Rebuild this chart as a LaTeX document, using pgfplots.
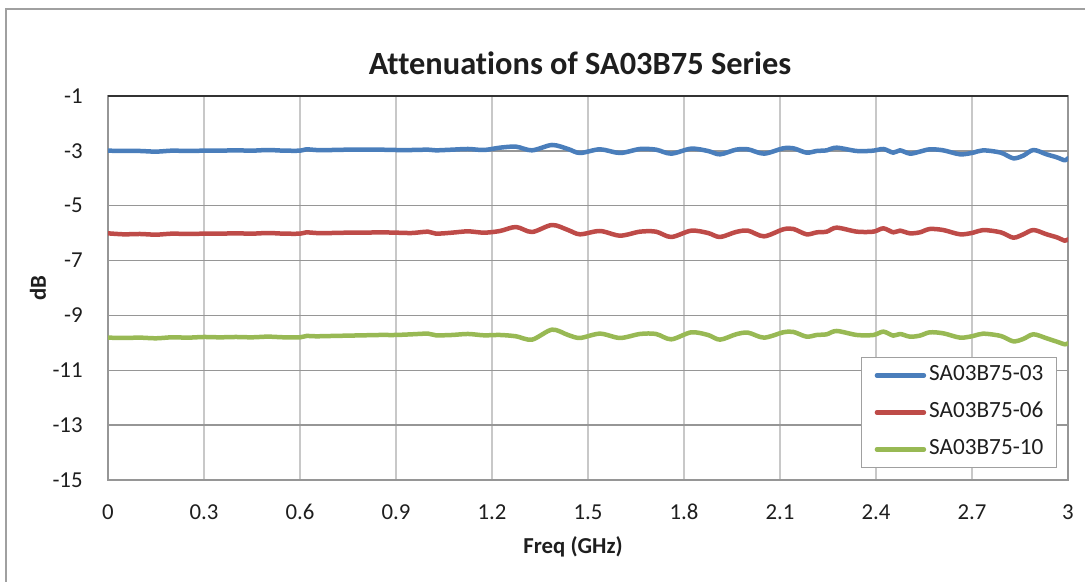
\documentclass[border=0pt]{standalone}
\usepackage{fontspec}
\setmainfont{Carlito}[Ligatures={NoCommon}]
\usepackage{pgfplots}
\pgfplotsset{compat=1.18}
\definecolor{cblue}{RGB}{74,126,187}
\definecolor{cred}{RGB}{190,75,72}
\definecolor{cgreen}{RGB}{152,185,84}
\definecolor{vgrid}{RGB}{200,200,200}
\definecolor{hgrid}{RGB}{150,150,150}
\definecolor{frame}{RGB}{160,160,160}
\definecolor{txt}{RGB}{30,30,30}
\begin{document}
\begin{tikzpicture}
\useasboundingbox (0,0) rectangle (542.5pt,291pt);
\draw[frame, line width=0.8pt] (3pt,0pt) -- (3pt,286.5pt) -- (542.5pt,286.5pt);
\node[font=\fontsize{16.2}{19}\selectfont\bfseries, text=txt] at (290pt,259.5pt) {Attenuations of SA03B75 Series};
\begin{axis}[
  at={(54pt,51pt)}, anchor=south west,
  scale only axis, width=480pt, height=192pt,
  xmin=0, xmax=3, ymin=-15, ymax=-1,
  xtick={0,0.3,0.6,0.9,1.2,1.5,1.8,2.1,2.4,2.7,3},
  xticklabels={0,0.3,0.6,0.9,1.2,1.5,1.8,2.1,2.4,2.7,3},
  ytick={-15,-13,-11,-9,-7,-5,-3,-1},
  yticklabels={-15,-13,-11,-9,-7,-5,-3,-1},
  major tick length=0pt,
  tick label style={font=\fontsize{11.4}{13}\selectfont, text=txt},
  xticklabel style={inner sep=0pt, anchor=north, yshift=-12pt},
  yticklabel style={inner sep=0pt, anchor=east, xshift=-12.5pt},
  xmajorgrids, ymajorgrids,
  x grid style={vgrid, line width=0.75pt},
  y grid style={hgrid, line width=0.75pt},
  axis line style={hgrid, line width=0.75pt},
  xlabel={\bfseries Freq (GHz)},
  ylabel={\bfseries dB},
  label style={font=\fontsize{11.4}{13}\selectfont, text=txt},
  xlabel style={at={(axis description cs:0.4844,0)}, anchor=center, yshift=-33.5pt},
  ylabel style={at={(axis description cs:-0.0729,0.5)}, anchor=center},
  legend style={at={(axis description cs:0.9885,0.03125)}, anchor=south east,
    draw=frame, line width=0.6pt, fill=white,
    inner xsep=6.5pt, inner ysep=4.5pt, row sep=9.5pt, column sep=1.5pt,
    nodes={inner sep=0pt, text height=7.2pt, text depth=1.8pt, anchor=west},
    font=\fontsize{11.6}{13}\selectfont, text=txt},
  legend cell align=left,
  legend image code/.code={\draw[#1, line width=2.25pt, line cap=round] (0pt,0pt) -- (23.5pt,0pt);},
  every axis plot/.append style={line width=2.25pt, line join=round, line cap=round, smooth, tension=0.5},
]
\addplot[cblue] coordinates {
(0,-2.993)(0.05,-3.005)(0.10,-3.005)(0.15,-3.029)(0.20,-2.993)(0.25,-3.005)(0.30,-2.993)(0.35,-2.993)(0.40,-2.981)(0.45,-2.993)(0.50,-2.969)(0.55,-2.993)(0.60,-2.993)(0.62,-2.944)(0.65,-2.969)(0.70,-2.969)(0.75,-2.957)(0.80,-2.957)(0.85,-2.957)(0.90,-2.969)(0.95,-2.969)(1.00,-2.957)
(1.025,-2.981)(1.075,-2.957)(1.125,-2.932)(1.175,-2.969)(1.225,-2.884)(1.275,-2.847)(1.325,-2.981)(1.3875,-2.786)(1.4375,-2.932)(1.475,-3.078)(1.5375,-2.944)(1.6,-3.078)(1.6625,-2.932)(1.7125,-2.957)(1.76,-3.102)(1.8225,-2.920)(1.875,-3.005)(1.9125,-3.127)(1.9625,-2.957)(2.0,-2.944)
(2.05,-3.102)(2.11,-2.908)(2.142,-2.908)(2.183,-3.066)(2.215,-3.005)(2.246,-2.981)(2.277,-2.884)(2.34,-3.005)(2.392,-2.993)(2.423,-2.932)(2.454,-3.066)(2.475,-2.981)(2.506,-3.102)(2.537,-3.029)(2.568,-2.944)(2.61,-2.981)(2.663,-3.127)(2.704,-3.066)(2.735,-2.981)(2.79,-3.066)(2.829,-3.272)(2.86,-3.175)(2.892,-2.969)(2.933,-3.127)(2.965,-3.236)(2.99,-3.345)(3.0,-3.272)
};
\addlegendentry{SA03B75-03}
\addplot[cred] coordinates {
(0,-6.007)(0.05,-6.043)(0.10,-6.031)(0.15,-6.056)(0.20,-6.019)(0.25,-6.031)(0.30,-6.019)(0.35,-6.019)(0.40,-6.007)(0.45,-6.019)(0.50,-5.995)(0.55,-6.019)(0.60,-6.019)(0.62,-5.971)(0.65,-5.995)(0.70,-5.995)(0.75,-5.983)(0.80,-5.983)(0.85,-5.971)(0.90,-5.983)(0.95,-5.995)(1.00,-5.946)
(1.025,-6.019)(1.075,-5.983)(1.125,-5.934)(1.175,-5.983)(1.225,-5.922)(1.275,-5.776)(1.325,-5.958)(1.3875,-5.703)(1.4375,-5.886)(1.475,-6.043)(1.5375,-5.922)(1.6,-6.092)(1.6625,-5.946)(1.7125,-5.946)(1.76,-6.141)(1.8225,-5.910)(1.875,-5.995)(1.9125,-6.141)(1.9625,-5.958)(2.0,-5.910)
(2.05,-6.116)(2.11,-5.861)(2.142,-5.849)(2.183,-6.043)(2.215,-5.971)(2.246,-5.946)(2.277,-5.800)(2.34,-5.946)(2.392,-5.946)(2.423,-5.825)(2.454,-5.971)(2.475,-5.910)(2.506,-6.007)(2.537,-5.971)(2.568,-5.849)(2.61,-5.886)(2.663,-6.043)(2.704,-5.983)(2.735,-5.886)(2.79,-5.971)(2.829,-6.165)(2.86,-6.043)(2.892,-5.886)(2.933,-6.043)(2.965,-6.153)(2.99,-6.274)(3.0,-6.226)
};
\addlegendentry{SA03B75-06}
\addplot[cgreen] coordinates {
(0,-9.810)(0.05,-9.822)(0.10,-9.810)(0.15,-9.834)(0.20,-9.798)(0.25,-9.810)(0.30,-9.786)(0.35,-9.798)(0.40,-9.786)(0.45,-9.798)(0.50,-9.774)(0.55,-9.798)(0.60,-9.798)(0.62,-9.749)(0.65,-9.761)(0.70,-9.749)(0.75,-9.737)(0.80,-9.725)(0.85,-9.713)(0.90,-9.713)(0.95,-9.688)(1.00,-9.664)
(1.025,-9.725)(1.075,-9.713)(1.125,-9.676)(1.175,-9.725)(1.225,-9.713)(1.275,-9.761)(1.325,-9.883)(1.3875,-9.518)(1.4375,-9.713)(1.475,-9.822)(1.5375,-9.664)(1.6,-9.822)(1.6625,-9.676)(1.7125,-9.676)(1.76,-9.871)(1.8225,-9.616)(1.875,-9.713)(1.9125,-9.883)(1.9625,-9.688)(2.0,-9.628)
(2.05,-9.810)(2.11,-9.616)(2.142,-9.603)(2.183,-9.774)(2.215,-9.713)(2.246,-9.688)(2.277,-9.567)(2.34,-9.713)(2.392,-9.713)(2.423,-9.591)(2.454,-9.737)(2.475,-9.676)(2.506,-9.774)(2.537,-9.737)(2.568,-9.616)(2.61,-9.652)(2.663,-9.810)(2.704,-9.749)(2.735,-9.664)(2.79,-9.749)(2.829,-9.944)(2.86,-9.859)(2.892,-9.688)(2.933,-9.834)(2.965,-9.956)(2.99,-10.053)(3.0,-10.017)
};
\addlegendentry{SA03B75-10}
\draw[black!80, line width=0.9pt] (rel axis cs:0,1) -- (rel axis cs:1,1);
\end{axis}
\end{tikzpicture}
\end{document}
